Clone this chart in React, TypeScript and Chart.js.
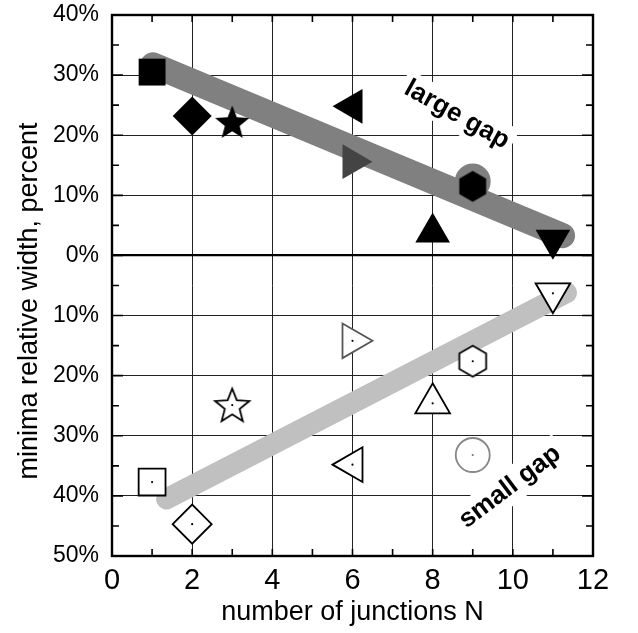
import React, { useEffect, useRef } from 'react';
import { Chart, registerables } from 'chart.js';

Chart.register(...registerables);

// ---- data ----
const xTickValues = [0, 2, 4, 6, 8, 10, 12];
const yTickValues = [-50, -40, -30, -20, -10, 0, 10, 20, 30, 40];

const largeGapJunctions = [1, 2, 3, 6, 6, 8, 9, 11];
const largeGapWidth = [30.5, 23.2, 22.2, 24.8, 15.6, 3.8, 11.5, 2.6];
const largeGapMarker = ['square', 'diamond', 'star', 'triLeft', 'triRight', 'triUp', 'hexagon', 'triDown'];

const smallGapJunctions = [1, 2, 3, 6, 6, 8, 9, 11];
const smallGapWidth = [-37.7, -44.7, -24.9, -14.2, -34.8, -24.6, -17.6, -6.3];
const smallGapMarker = ['square', 'diamond', 'star', 'triRight', 'triLeft', 'triUp', 'hexagon', 'triDown'];

const circleJunctions = [9, 9];
const circleWidth = [12.3, -33.2];

const largeFitJunctions = [1.02, 11.24];
const largeFitWidth = [31.7, 3.3];
const smallFitJunctions = [1.36, 11.34];
const smallFitWidth = [-40.5, -6.2];

const Y_TITLE = 'minima relative width, percent';
const X_TITLE = 'number of junctions N';

const FONT = "'Liberation Sans', Arial, Helvetica, sans-serif";

function makeShape(kind: 'star' | 'hexagon', filled: boolean): HTMLCanvasElement {
  const size = 42;
  const c = document.createElement('canvas');
  c.width = size;
  c.height = size;
  const g = c.getContext('2d')!;
  const cx = size / 2, cy = size / 2;
  g.beginPath();
  if (kind === 'star') {
    const R = 18, r = 7.8;
    for (let i = 0; i < 10; i++) {
      const ang = -Math.PI / 2 + (i * Math.PI) / 5;
      const rad = i % 2 === 0 ? R : r;
      const px = cx + rad * Math.cos(ang), py = cy + 1.5 + rad * Math.sin(ang);
      if (i === 0) g.moveTo(px, py); else g.lineTo(px, py);
    }
  } else {
    const R = 15.5;
    for (let i = 0; i < 6; i++) {
      const ang = -Math.PI / 2 + (i * Math.PI) / 3;
      const px = cx + R * Math.cos(ang), py = cy + R * Math.sin(ang);
      if (i === 0) g.moveTo(px, py); else g.lineTo(px, py);
    }
  }
  g.closePath();
  if (filled) {
    g.fillStyle = '#000';
    g.fill();
  } else {
    g.fillStyle = '#fff';
    g.fill();
    g.lineWidth = 1.8;
    g.strokeStyle = '#000';
    g.stroke();
  }
  return c;
}

function styleFor(m: string, filled: boolean, imgs: any) {
  switch (m) {
    case 'square': return { style: 'rect', rot: 0, r: 19 };
    case 'diamond': return { style: 'rectRot', rot: 0, r: 19.5 };
    case 'triUp': return { style: 'triangle', rot: 0, r: 20 };
    case 'triDown': return { style: 'triangle', rot: 180, r: 20 };
    case 'triLeft': return { style: 'triangle', rot: 270, r: 20 };
    case 'triRight': return { style: 'triangle', rot: 90, r: 20 };
    case 'star': return { style: filled ? imgs.starF : imgs.starO, rot: 0, r: 18 };
    case 'hexagon': return { style: filled ? imgs.hexF : imgs.hexO, rot: 0, r: 16 };
  }
  return { style: 'circle', rot: 0, r: 5 };
}

const textLabels = {
  id: 'textLabels',
  beforeDatasetsDraw(chart: any) {
    const { ctx, scales } = chart;
    const items = [
      { text: 'large gap', x: 8.6, y: 23.4, angle: 29 },
      { text: 'small gap', x: 9.93, y: -38.5, angle: -37 },
    ];
    ctx.save();
    ctx.font = `bold 26px ${FONT}`;
    for (const it of items) {
      const px = scales.x.getPixelForValue(it.x);
      const py = scales.y.getPixelForValue(it.y);
      ctx.save();
      ctx.translate(px, py);
      ctx.rotate((it.angle * Math.PI) / 180);
      const w = ctx.measureText(it.text).width;
      ctx.fillStyle = '#fff';
      ctx.fillRect(-w / 2 - 5, -17, w + 10, 34);
      ctx.fillStyle = '#000';
      ctx.textAlign = 'center';
      ctx.textBaseline = 'middle';
      ctx.fillText(it.text, 0, 0);
      ctx.restore();
    }
    ctx.restore();
  },
};

const yTitle = {
  id: 'yTitle',
  afterDraw(chart: any) {
    const { ctx } = chart;
    ctx.save();
    ctx.translate(30, 301);
    ctx.rotate(-Math.PI / 2);
    ctx.font = `27px ${FONT}`;
    ctx.fillStyle = '#000';
    ctx.textAlign = 'center';
    ctx.textBaseline = 'middle';
    ctx.fillText(Y_TITLE, 0, 0);
    ctx.restore();
  },
};

const frameTicks = {
  id: 'frameTicks',
  afterDatasetsDraw(chart: any) {
    const { ctx, chartArea: a, scales } = chart;
    const x = scales.x, y = scales.y;
    ctx.save();
    ctx.strokeStyle = '#000';
    ctx.lineWidth = 1.6;
    ctx.beginPath();
    for (let v = 0; v <= 12; v++) {
      const px = x.getPixelForValue(v);
      const len = 7;
      ctx.moveTo(px, a.bottom);
      ctx.lineTo(px, a.bottom - len);
      ctx.moveTo(px, a.top);
      ctx.lineTo(px, a.top + len);
    }
    for (let v = -50; v <= 40; v += 5) {
      const py = y.getPixelForValue(v);
      const len = v % 10 === 0 ? 11 : 7;
      ctx.moveTo(a.left, py);
      ctx.lineTo(a.left + len, py);
      ctx.moveTo(a.right, py);
      ctx.lineTo(a.right - len, py);
    }
    ctx.stroke();
    ctx.lineWidth = 2.4;
    ctx.strokeRect(a.left, a.top, a.right - a.left, a.bottom - a.top);
    ctx.restore();
  },
};

export default function App() {
  const ref = useRef<HTMLCanvasElement>(null);
  useEffect(() => {
    document.body.style.margin = '0';
    const imgs = {
      starF: makeShape('star', true),
      starO: makeShape('star', false),
      hexF: makeShape('hexagon', true),
      hexO: makeShape('hexagon', false),
    };
    const large = largeGapMarker.map((m) => styleFor(m, true, imgs));
    const small = smallGapMarker.map((m) => styleFor(m, false, imgs));

    const chart = new Chart(ref.current!, {
      type: 'scatter',
      data: {
        datasets: [
          {
            label: 'dots',
            data: smallGapJunctions.map((x, i) => ({ x, y: smallGapWidth[i] })).concat([{ x: circleJunctions[1], y: circleWidth[1] }]),
            pointStyle: 'circle',
            pointRadius: 1.1,
            backgroundColor: smallGapJunctions.map(() => '#000').concat(['#777']),
            borderWidth: 0,
            order: -1,
          } as any,
          {
            label: 'large gap',
            data: largeGapJunctions.map((x, i) => ({ x, y: largeGapWidth[i] })),
            pointStyle: large.map((s) => s.style),
            rotation: large.map((s) => s.rot),
            pointRadius: large.map((s) => s.r),
            backgroundColor: largeGapMarker.map((m) => (m === 'triRight' ? '#444' : '#000')),
            borderColor: largeGapMarker.map((m) => (m === 'triRight' ? '#444' : '#000')),
            borderWidth: 0,
            order: 0,
          } as any,
          {
            label: 'small gap',
            data: smallGapJunctions.map((x, i) => ({ x, y: smallGapWidth[i] })),
            pointStyle: small.map((s) => s.style),
            rotation: small.map((s) => s.rot),
            pointRadius: small.map((s) => s.r),
            backgroundColor: '#fff',
            borderColor: smallGapMarker.map((m) => (m === 'triRight' ? '#555' : '#000')),
            borderWidth: 1.8,
            order: 0,
          } as any,
          {
            label: 'circles',
            data: circleJunctions.map((x, i) => ({ x, y: circleWidth[i] })),
            pointStyle: 'circle',
            pointRadius: 17,
            backgroundColor: ['#808080', '#fff'],
            borderColor: ['#808080', '#888'],
            borderWidth: 1.8,
            order: 5,
          } as any,
          {
            label: 'large fit',
            data: largeFitJunctions.map((x, i) => ({ x, y: largeFitWidth[i] })),
            showLine: true,
            borderColor: '#808080',
            borderWidth: 25,
            borderCapStyle: 'round',
            pointRadius: 0,
            order: 10,
          } as any,
          {
            label: 'small fit',
            data: smallFitJunctions.map((x, i) => ({ x, y: smallFitWidth[i] })),
            showLine: true,
            borderColor: '#c0c0c0',
            borderWidth: 21,
            borderCapStyle: 'round',
            pointRadius: 0,
            order: 10,
          } as any,
        ],
      },
      options: {
        responsive: false,
        animation: false,
        events: [],
        layout: { autoPadding: false, padding: { top: 15, right: 45, left: 0, bottom: 0 } },
        plugins: { legend: { display: false }, tooltip: { enabled: false } },
        scales: {
          x: {
            type: 'linear',
            min: 0,
            max: 12,
            afterBuildTicks: (s: any) => { s.ticks = xTickValues.map((v) => ({ value: v })); },
            afterFit: (s: any) => { s.height = 77; s.paddingLeft = 0; s.paddingRight = 0; },
            grid: { color: '#222', lineWidth: 1, drawTicks: false },
            border: { display: false },
            ticks: { color: '#000', font: { size: 29, family: FONT }, padding: 8, maxRotation: 0 },
            title: { display: true, text: X_TITLE, color: '#000', font: { size: 27, family: FONT }, padding: { top: 0, bottom: 4 } },
          },
          y: {
            type: 'linear',
            min: -50,
            max: 40,
            afterBuildTicks: (s: any) => { s.ticks = yTickValues.map((v) => ({ value: v })); },
            afterFit: (s: any) => { s.width = 112; s.paddingTop = 0; s.paddingBottom = 0; },
            grid: {
              color: (c: any) => (c.tick && c.tick.value === 0 ? '#000' : '#222'),
              lineWidth: (c: any) => (c.tick && c.tick.value === 0 ? 2.2 : 1),
              drawTicks: false,
            },
            border: { display: false },
            ticks: { color: '#000', font: { size: 23, family: FONT }, padding: 13, callback: (v: any) => `${Math.abs(Number(v))}%` },
            title: { display: false },
          },
        },
      } as any,
      plugins: [textLabels, frameTicks, yTitle],
    });
    return () => chart.destroy();
  }, []);
  return <canvas ref={ref} width={638} height={633} style={{ display: 'block' }} />;
}
